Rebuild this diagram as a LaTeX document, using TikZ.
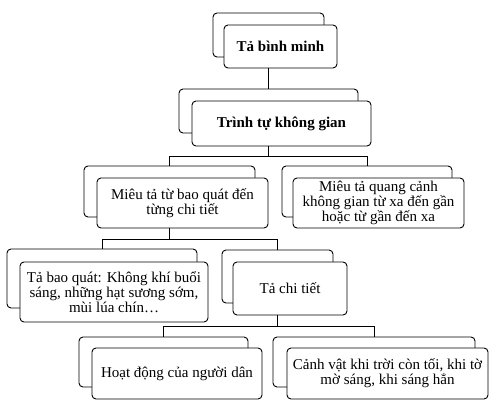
\documentclass[tikz,border=0pt]{standalone}
\usepackage{fontspec}
\setmainfont{Liberation Serif}
\begin{document}
\begin{tikzpicture}[x=1pt,y=-1pt,
  backbox/.style={draw=black, line width=0.9pt, rounded corners=4pt, fill=white, inner sep=0pt},
  frontbox/.style={draw=black, line width=0.9pt, rounded corners=4pt, fill=white, inner sep=0pt,
    align=center, font=\fontsize{15}{15.3}\selectfont},
  conn/.style={draw=black, line width=0.9pt}]
\useasboundingbox (0,0) rectangle (495,406);
% junction levels
\coordinate (h1) at (0,156);
\coordinate (h2) at (0,239);
\coordinate (h3) at (0,326);
% back boxes
\node[backbox, minimum width=111pt, minimum height=44pt] (tB) at (268.5,35) {};
\node[backbox, minimum width=179pt, minimum height=44pt] (lB) at (268.5,111) {};
\node[backbox, minimum width=171pt, minimum height=51pt] (aB) at (169.5,191.5) {};
\node[backbox, minimum width=170pt, minimum height=51pt] (bB) at (367,191.5) {};
\node[backbox, minimum width=190pt, minimum height=59pt] (cB) at (102,278.5) {};
\node[backbox, minimum width=111pt, minimum height=53pt] (dB) at (277.5,276.5) {};
\node[backbox, minimum width=169pt, minimum height=50pt] (eB) at (163.5,362) {};
\node[backbox, minimum width=202pt, minimum height=50pt] (fB) at (374,362) {};
% front boxes
\node[frontbox, minimum width=113pt, minimum height=43pt] (tF) at (280.5,46.5) {\textbf{Tả bình minh}};
\node[frontbox, minimum width=179pt, minimum height=45pt] (lF) at (281.5,123.5) {\textbf{Trình tự không gian}};
\node[frontbox, minimum width=171pt, minimum height=50pt] (aF) at (182.5,203) {Miêu tả từ bao quát đến\\từng chi tiết};
\node[frontbox, minimum width=171pt, minimum height=50pt] (bF) at (378.5,203) {Miêu tả quang cảnh\\không gian từ xa đến gần\\hoặc từ gần đến xa};
\node[frontbox, minimum width=188pt, minimum height=60pt] (cF) at (114,292) {Tả bao quát: Không khí buổi\\sáng, những hạt sương sớm,\\mùi lúa chín…};
\node[frontbox, minimum width=114pt, minimum height=53pt] (dF) at (290,288.5) {Tả chi tiết};
\node[frontbox, minimum width=170pt, minimum height=51pt] (eF) at (177,373.5) {Hoạt động của người dân};
\node[frontbox, minimum width=201pt, minimum height=51pt] (fF) at (387.5,373.5) {Cảnh vật khi trời còn tối, khi tờ\\mờ sáng, khi sáng hẳn};
% connectors
\draw[conn] (tF.south -| tB.center) -- (lB.north);
\draw[conn] (lF.south -| lB.center) -- (lB.center |- h1);
\draw[conn] (aB.north) |- (bB.north |- h1) -- (bB.north);
\draw[conn] (aF.south -| aB.center) -- (aB.center |- h2);
\draw[conn] (cB.north) |- (dB.north |- h2) -- (dB.north);
\draw[conn] (dF.south -| dB.center) -- (dB.center |- h3);
\draw[conn] (eB.north) |- (fB.north |- h3) -- (fB.north);
\end{tikzpicture}
\end{document}
